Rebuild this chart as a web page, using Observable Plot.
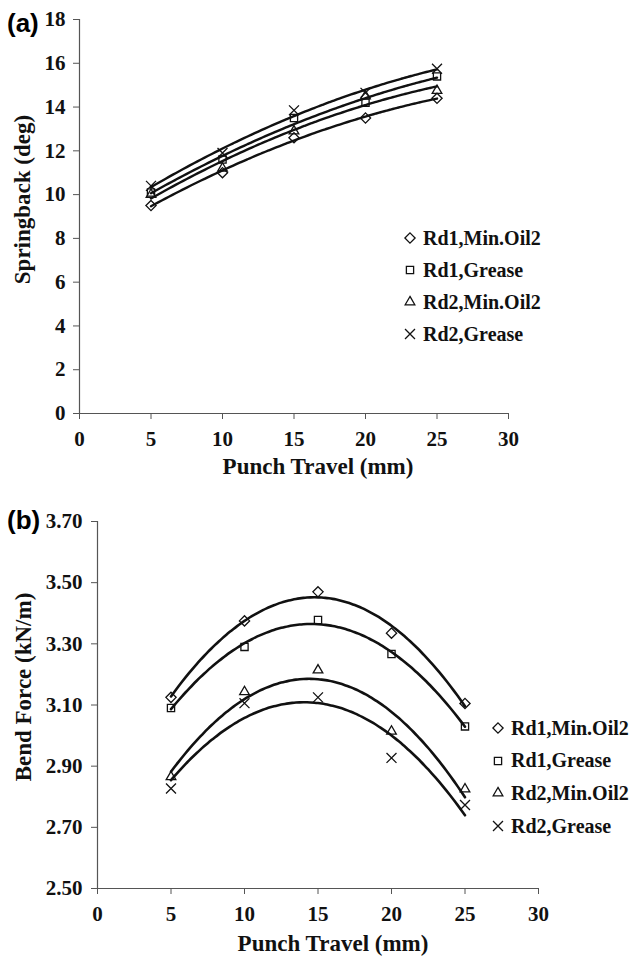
<!DOCTYPE html>
<html><head><meta charset="utf-8">
<script src="https://cdn.jsdelivr.net/npm/d3@7"></script>
<script src="https://cdn.jsdelivr.net/npm/@observablehq/plot@0.6"></script>
<style>
body{margin:0;background:#fff;}
#wrap{position:relative;width:630px;height:956px;overflow:hidden;background:#fff;}
.panel{position:absolute;left:0;}
.tag{position:absolute;font-family:"Liberation Sans",Arial,sans-serif;font-weight:bold;font-size:26px;line-height:1;}
.legend{position:absolute;font-family:"Liberation Serif","Times New Roman",serif;font-weight:bold;font-size:20px;color:#111;}
.legend .row{position:absolute;left:0;white-space:nowrap;display:flex;align-items:center;}
.legend svg{overflow:visible;}
</style></head><body><div id="wrap"></div>
<script>
// ---- data ----
const travel = [5, 10, 15, 20, 25];
const seriesNames = ["Rd1,Min.Oil2", "Rd1,Grease", "Rd2,Min.Oil2", "Rd2,Grease"];
const seriesSymbols = ["diamond2", "square2", "triangle2", "times"];

// (a) Springback (deg)
const springRd1Oil    = [9.5, 11.0, 12.6, 13.5, 14.4];
const springRd1Grease = [10.1, 11.6, 13.5, 14.2, 15.4];
const springRd2Oil    = [10.0, 11.2, 12.9, 14.5, 14.75];
const springRd2Grease = [10.4, 11.9, 13.85, 14.65, 15.75];

// (b) Bend force (kN/m)
const forceRd1Oil    = [3.125, 3.375, 3.47, 3.335, 3.105];
const forceRd1Grease = [3.09, 3.29, 3.378, 3.267, 3.03];
const forceRd2Oil    = [2.865, 3.143, 3.214, 3.014, 2.825];
const forceRd2Grease = [2.827, 3.106, 3.125, 2.927, 2.773];

const xTicks = [0, 5, 10, 15, 20, 25, 30];
const springTicks = [0, 2, 4, 6, 8, 10, 12, 14, 16, 18];
const forceTicks = [2.5, 2.7, 2.9, 3.1, 3.3, 3.5, 3.7];

// ---- helpers ----
function toRows(seriesValues) {
  const rows = [];
  seriesValues.forEach((vals, i) => vals.forEach((v, j) => rows.push({series: seriesNames[i], x: travel[j], y: v})));
  return rows;
}
// least-squares quadratic trendline (as in the original spreadsheet chart)
function quadFit(xs, ys) {
  let s = [0,0,0,0,0], t = [0,0,0];
  xs.forEach((x, i) => {
    for (let k = 0; k < 5; k++) s[k] += Math.pow(x, k);
    for (let k = 0; k < 3; k++) t[k] += ys[i] * Math.pow(x, k);
  });
  const A = [[s[0], s[1], s[2], t[0]], [s[1], s[2], s[3], t[1]], [s[2], s[3], s[4], t[2]]];
  for (let c = 0; c < 3; c++) {
    for (let r = c + 1; r < 3; r++) {
      const f = A[r][c] / A[c][c];
      for (let k = c; k < 4; k++) A[r][k] -= f * A[c][k];
    }
  }
  const b = [0,0,0];
  for (let r = 2; r >= 0; r--) {
    let v = A[r][3];
    for (let k = r + 1; k < 3; k++) v -= A[r][k] * b[k];
    b[r] = v / A[r][r];
  }
  return x => b[0] + b[1] * x + b[2] * x * x;
}
function trendRows(seriesValues) {
  const rows = [];
  const xs = d3.range(travel[0], travel[travel.length - 1] + 0.001, 0.25);
  seriesValues.forEach((vals, i) => {
    const f = quadFit(travel, vals);
    xs.forEach(x => rows.push({series: seriesNames[i], x, y: f(x)}));
  });
  return rows;
}

const font = '"Liberation Serif", "Times New Roman", serif';
const axisColor = "#555";

function panel({values, yDomain, yTicks, yFormat, yLabel, top, height, mt, mb, ml, mr,
                ylPadding, xTitleDx, xTitleDy, yTitleDx, yTitleDy, lineWidth}) {
  const pts = toRows(values);
  const trend = trendRows(values);
  const p = Plot.plot({
    width: 630, height,
    marginTop: mt, marginBottom: mb, marginLeft: ml, marginRight: mr,
    style: {fontFamily: font, fontSize: "21px", fontWeight: "bold", color: "#111", background: "transparent"},
    x: {domain: [0, 30]},
    y: {domain: yDomain},
    symbol: {domain: seriesNames, range: seriesSymbols},
    marks: [
      Plot.ruleX([0], {stroke: axisColor, strokeWidth: 1.2}),
      Plot.ruleY([yDomain[0]], {stroke: axisColor, strokeWidth: 1.2}),
      Plot.axisX({ticks: xTicks, tickSize: 6, tickPadding: 12, tickFormat: d => d, stroke: axisColor, label: null, fill: "#111", fontFamily: font, fontSize: 21, fontWeight: "bold"}),
      Plot.axisY({ticks: yTicks, tickSize: 6, tickPadding: ylPadding, tickFormat: yFormat, stroke: axisColor, label: null, fill: "#111", fontFamily: font, fontSize: 21, fontWeight: "bold"}),
      Plot.line(trend, {x: "x", y: "y", z: "series", stroke: "#111", strokeWidth: lineWidth, curve: "natural"}),
      Plot.dot(pts, {x: "x", y: "y", symbol: "series", stroke: "#111", fill: "none", r: 4.6, strokeWidth: 1.3}),
      Plot.text(["Punch Travel (mm)"], {frameAnchor: "bottom", dx: xTitleDx, dy: xTitleDy, lineAnchor: "middle", fontFamily: font, fontSize: 23, fontWeight: "bold", fill: "#111"}),
      Plot.text([yLabel], {frameAnchor: "left", dx: yTitleDx, dy: yTitleDy, rotate: -90, lineAnchor: "middle", textAnchor: "middle", fontFamily: font, fontSize: 23, fontWeight: "bold", fill: "#111"})
    ]
  });
  p.classList.add("panel");
  p.style.top = top + "px";
  return p;
}

const wrap = document.getElementById("wrap");

wrap.appendChild(panel({
  values: [springRd1Oil, springRd1Grease, springRd2Oil, springRd2Grease],
  yDomain: [0, 18], yTicks: springTicks, yFormat: d => d, yLabel: "Springback (deg)",
  top: 0, height: 490, mt: 19, mb: 77, ml: 79, mr: 122, ylPadding: 8,
  xTitleDx: 24, xTitleDy: 53, yTitleDx: -57, yTitleDy: -17, lineWidth: 2.4
}));

wrap.appendChild(panel({
  values: [forceRd1Oil, forceRd1Grease, forceRd2Oil, forceRd2Grease],
  yDomain: [2.5, 3.7], yTicks: forceTicks, yFormat: d3.format(".2f"), yLabel: "Bend Force (kN/m)",
  top: 490, height: 466, mt: 31, mb: 68, ml: 97, mr: 92, ylPadding: 9,
  xTitleDx: 15, xTitleDy: 55, yTitleDx: -74, yTitleDy: -18, lineWidth: 2.6
}));

// panel tags
function tag(text, x, y) {
  const d = document.createElement("div");
  d.className = "tag"; d.textContent = text;
  d.style.left = x + "px"; d.style.top = y + "px";
  wrap.appendChild(d);
}
tag("(a)", 7, 10);
tag("(b)", 7, 507);

// legends
function legend(x, y, step, textGap) {
  const box = document.createElement("div");
  box.className = "legend";
  box.style.left = x + "px"; box.style.top = y + "px";
  seriesNames.forEach((name, i) => {
    const row = document.createElement("div");
    row.className = "row";
    row.style.top = (i * step - 12) + "px";
    row.style.height = "24px";
    const sym = d3.create("svg").attr("width", 12).attr("height", 12).style("margin-right", textGap + "px");
    const t = {diamond2: d3.symbolDiamond2, square2: d3.symbolSquare2, triangle2: d3.symbolTriangle2, times: d3.symbolTimes}[seriesSymbols[i]];
    sym.append("path").attr("transform", "translate(6,6)").attr("d", d3.symbol(t, Math.PI * 4.6 * 4.6)())
      .attr("fill", "none").attr("stroke", "#111").attr("stroke-width", 1.3);
    row.appendChild(sym.node());
    const s = document.createElement("span"); s.textContent = name;
    row.appendChild(s);
    box.appendChild(row);
  });
  wrap.appendChild(box);
}
legend(404, 238, 32, 7);
legend(492, 728, 32.7, 7);
</script></body></html>
